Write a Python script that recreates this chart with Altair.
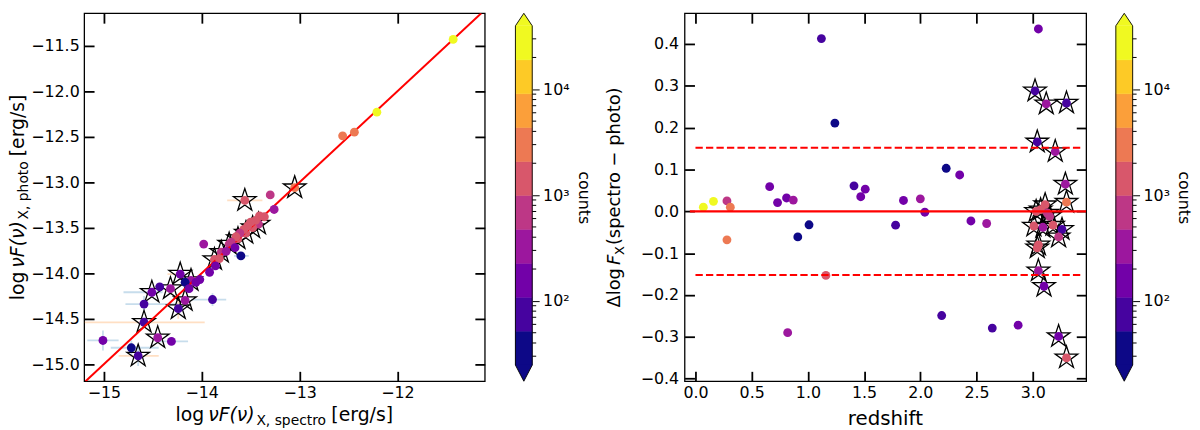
import numpy as np
import pandas as pd
import altair as alt

FONT = "DejaVu Sans"
TICK_FS = 16
TITLE_FS = 19
SUB_FS = 14
RY_FS = 18
RY_SUB = 13

# ---------------- left panel data ----------------
L_CIRC_X = [-11.43, -12.21, -12.56, -12.44, -13.30, -13.26, -13.36, -13.41, -13.45, -13.50,
            -13.53, -13.57, -13.61, -13.65, -13.70, -13.66, -13.75, -13.98, -13.60, -13.82,
            -13.86, -13.92, -14.02, -14.06, -14.17, -14.13, -14.43, -13.89, -14.59, -14.31,
            -15.01, -14.72]
L_CIRC_Y = [-11.43, -12.23, -12.49, -12.45, -13.14, -13.30, -13.38, -13.37, -13.42, -13.44,
            -13.48, -13.52, -13.56, -13.60, -13.66, -13.72, -13.76, -13.68, -13.81, -13.84,
            -13.92, -13.99, -14.07, -14.10, -14.10, -14.17, -14.15, -14.29, -14.34, -14.75,
            -14.74, -14.82]
L_CIRC_C = [25000, 25000, 2700, 2700, 650, 320, 1300, 1300, 1300, 1300,
            1300, 1300, 650, 1300, 650, 160, 320, 320, 40, 1300,
            160, 160, 160, 160, 40, 160, 80, 80, 80, 160,
            160, 40]

L_STAR_X = [-13.05, -13.56, -13.42, -13.48, -13.55, -13.63, -13.72, -13.80, -13.87, -14.22,
            -14.11, -14.51, -14.32, -14.17, -14.24, -14.59, -14.45, -14.65]
L_STAR_Y = [-13.06, -13.20, -13.46, -13.50, -13.56, -13.62, -13.68, -13.77, -13.85, -14.01,
            -14.08, -14.21, -14.17, -14.30, -14.39, -14.54, -14.71, -14.91]
L_STAR_C = [2700, 1300, 650, 1300, 1300, 1300, 650, 650, 1300, 160,
            320, 160, 320, 320, 80, 80, 320, 80]

# horizontal error bars (b = circle sample, o = star sample)
L_HERR_Y = [-14.74, -14.82, -14.34, -14.75, -14.29, -14.21, -13.81, -14.54, -14.91, -13.20, -14.01]
L_HERR_LO = [-15.17, -14.93, -14.78, -14.44, -14.11, -14.80, -13.67, -15.20, -14.85, -13.74, -14.35]
L_HERR_HI = [-14.85, -14.44, -14.24, -14.14, -13.75, -14.40, -13.52, -13.97, -14.44, -13.38, -14.25]
L_HERR_K = ["b", "b", "b", "b", "b", "b", "b", "o", "o", "o", "o"]
# vertical error bars
L_VERR_X = [-15.01, -14.65, -14.59, -14.24, -13.89, -14.72]
L_VERR_LO = [-14.85, -15.02, -14.44, -14.50, -14.36, -14.90]
L_VERR_HI = [-14.63, -14.80, -14.25, -14.30, -14.22, -14.74]
L_VERR_K = ["b", "b", "b", "o", "b", "b"]

# ---------------- right panel data ----------------
R_CIRC_Z = [0.07, 0.16, 0.28, 0.31, 0.28, 0.66, 0.73, 0.81, 0.87, 0.82,
            0.91, 1.01, 1.12, 1.16, 1.24, 1.41, 1.47, 1.51, 1.78, 1.85,
            2.00, 2.04, 2.19, 2.23, 2.35, 2.45, 2.59, 2.64, 2.87, 3.05]
R_CIRC_D = [0.010, 0.024, 0.025, 0.010, -0.068, 0.059, 0.021, 0.032, 0.027, -0.290,
            -0.061, -0.032, 0.413, -0.153, 0.211, 0.061, 0.035, 0.053, -0.033, 0.026,
            0.030, -0.002, -0.249, 0.103, 0.087, -0.023, -0.029, -0.279, -0.272, 0.436]
R_CIRC_C = [25000, 25000, 650, 2700, 2700, 160, 160, 160, 320, 320,
            40, 40, 80, 1300, 40, 80, 160, 160, 80, 160,
            320, 160, 80, 40, 160, 160, 320, 80, 160, 160]

R_STAR_Z = [3.02, 3.12, 3.30, 3.04, 3.20, 3.29, 3.30, 3.11, 3.07, 3.03,
            3.13, 3.15, 3.01, 3.09, 3.18, 3.26, 3.23, 3.04, 3.05, 3.05,
            3.10, 3.23, 3.30]
R_STAR_D = [0.288, 0.257, 0.259, 0.166, 0.143, 0.065, 0.022, 0.016, 0.004, 0.000,
            -0.004, -0.012, -0.035, -0.038, -0.033, -0.043, -0.061, -0.087, -0.080, -0.142,
            -0.179, -0.299, -0.350]
R_STAR_C = [80, 320, 80, 80, 320, 320, 2700, 1300, 1300, 1300,
            650, 650, 1300, 320, 1300, 80, 650, 1300, 1300, 320,
            160, 160, 1300]

R_DASH_Y = [0.152, -0.152]
R_DASH_X = [0.0, 3.45]
R_ZERO_X = [-0.05, 3.475]

# ---------------- colour bar ----------------
CB_BOUNDS_LOG = [1.393, 1.714, 2.034, 2.355, 2.676, 2.997, 3.317, 3.638, 3.958, 4.279, 4.600]
CB_COLORS = ["#0d0887", "#46039f", "#7201a8", "#9c179e", "#bd3786",
             "#d8576b", "#ed7953", "#fb9f3a", "#fdca26", "#f0f921"]
CB_MAJOR = [100, 1000, 10000]
CB_MINOR = [30, 40, 50, 60, 70, 80, 90, 200, 300, 400, 500, 600, 700, 800, 900,
            2000, 3000, 4000, 5000, 6000, 7000, 8000, 9000, 20000, 30000]

CSCALE = alt.Scale(type="threshold", domain=[10 ** b for b in CB_BOUNDS_LOG[1:-1]], range=CB_COLORS)
ERR_SCALE = alt.Scale(domain=["b", "o"], range=["#1f77b4", "#ff7f0e"])

# star symbol (5 points, unit circumradius)
_pts = []
for k in range(10):
    r = 1.0 if k % 2 == 0 else 0.382
    a = np.deg2rad(-90 + 36 * k)
    _pts.append((r * np.cos(a), r * np.sin(a)))
STAR = "M" + "L".join(f"{px:.4f},{py:.4f}" for px, py in _pts) + "Z"

CW = {' ': 0.318, '(': 0.390, ')': 0.390, '[': 0.390, ']': 0.390, '/': 0.337, ',': 0.318,
      '.': 0.318, '−': 0.838, 'a': 0.613, 'c': 0.550, 'd': 0.635, 'e': 0.615, 'f': 0.352,
      'g': 0.635, 'h': 0.634, 'i': 0.278, 'l': 0.278, 'n': 0.634, 'o': 0.612, 'p': 0.635,
      'r': 0.411, 's': 0.521, 't': 0.392, 'u': 0.634, 'X': 0.685, 'F': 0.575, 'Δ': 0.685,
      'ν': 0.592}


def tw(s, fs):
    return sum(CW.get(ch, 0.6) for ch in s) * fs


def text_mark(s, x, y, fs, italic=False, angle=0, align="left"):
    kw = dict(font=FONT, fontSize=fs, align=align, baseline="alphabetic", color="black")
    if italic:
        kw["fontStyle"] = "italic"
    if angle:
        kw["angle"] = angle
    return alt.Chart(alt.Data(values=[{"t": s}])).mark_text(**kw).encode(
        text="t:N", x=alt.value(x), y=alt.value(y))


def h_title(pieces, xc, yb):
    total = sum(tw(p[0], p[1]) + p[4] for p in pieces)
    x = xc - total / 2
    out = []
    for s, fs, it, dy, gap in pieces:
        x += gap
        out.append(text_mark(s, x, yb + dy, fs, it))
        x += tw(s, fs)
    return out


def v_title(pieces, yc, xb):
    total = sum(tw(p[0], p[1]) + p[4] for p in pieces)
    y = yc + total / 2
    out = []
    for s, fs, it, dy, gap in pieces:
        y -= gap
        out.append(text_mark(s, xb + dy, y, fs, it, angle=270))
        y -= tw(s, fs)
    return out


def lab_axis(orient, values, fmt, pad):
    return alt.Axis(orient=orient, values=values, format=fmt, ticks=False, tickSize=0, domain=False,
                    grid=False, labelPadding=pad, labelFontSize=TICK_FS, labelFont=FONT,
                    labelColor="black", labelFlush=False, labelOverlap=False, title=None)


def tick_axis(orient, offset, values):
    return alt.Axis(orient=orient, offset=offset, values=values, labels=False, domain=False,
                    grid=False, ticks=True, tickSize=10, tickWidth=1.8, tickColor="black", title=None)


H = 372
VIEW = alt.ViewBackground(stroke="black", strokeWidth=1.3)

# ================= left panel =================
W1 = 405
XS1 = alt.Scale(domain=[-15.202, -11.107], nice=False, zero=False)
YS1 = alt.Scale(domain=[-15.188, -11.143], nice=False, zero=False)
XT1 = [-15, -14, -13, -12]
YT1 = [-15.0, -14.5, -14.0, -13.5, -13.0, -12.5, -12.0, -11.5]

df_herr = pd.DataFrame({"y": L_HERR_Y, "lo": L_HERR_LO, "hi": L_HERR_HI, "k": L_HERR_K})
df_verr = pd.DataFrame({"x": L_VERR_X, "lo": L_VERR_LO, "hi": L_VERR_HI, "k": L_VERR_K})
df_lc = pd.DataFrame({"x": L_CIRC_X, "y": L_CIRC_Y, "c": L_CIRC_C})
df_ls = pd.DataFrame({"x": L_STAR_X, "y": L_STAR_Y, "c": L_STAR_C})
df_l11 = pd.DataFrame({"x": [-15.188, -11.143], "y": [-15.188, -11.143]})

l_herr = alt.Chart(df_herr).mark_rule(strokeWidth=1.8, opacity=0.25, clip=True).encode(
    x=alt.X("lo:Q", scale=XS1, axis=lab_axis("bottom", XT1, "d", 3)), x2="hi:Q",
    y=alt.Y("y:Q", scale=YS1, axis=lab_axis("left", YT1, ".1f", 5)),
    color=alt.Color("k:N", scale=ERR_SCALE, legend=None))
l_verr = alt.Chart(df_verr).mark_rule(strokeWidth=1.8, opacity=0.25, clip=True).encode(
    x=alt.X("x:Q", scale=XS1, axis=tick_axis("top", -H, XT1)),
    y=alt.Y("lo:Q", scale=YS1, axis=tick_axis("right", -W1, YT1)), y2="hi:Q",
    color=alt.Color("k:N", scale=ERR_SCALE, legend=None))
l_star = alt.Chart(df_ls).mark_point(shape=STAR, size=576, filled=False, stroke="black",
                                     strokeWidth=1.3, opacity=1).encode(
    x=alt.X("x:Q", scale=XS1, axis=tick_axis("bottom", -H, XT1)),
    y=alt.Y("y:Q", scale=YS1, axis=tick_axis("left", -W1, YT1)))
l_starc = alt.Chart(df_ls).mark_circle(size=80, opacity=1).encode(
    x=alt.X("x:Q", scale=XS1, axis=None), y=alt.Y("y:Q", scale=YS1, axis=None),
    color=alt.Color("c:Q", scale=CSCALE, legend=None))
l_line = alt.Chart(df_l11).mark_line(color="#ff0000", strokeWidth=2, clip=True).encode(
    x=alt.X("x:Q", scale=XS1, axis=None), y=alt.Y("y:Q", scale=YS1, axis=None))
l_circ = alt.Chart(df_lc).mark_circle(size=80, opacity=1).encode(
    x=alt.X("x:Q", scale=XS1, axis=None), y=alt.Y("y:Q", scale=YS1, axis=None),
    color=alt.Color("c:Q", scale=CSCALE, legend=None))

l_xt = h_title([("log", TITLE_FS, False, 0, 0), ("νF(ν)", TITLE_FS, True, 0, 4),
                ("X, spectro", SUB_FS, False, 4.5, 0.5), ("[erg/s]", TITLE_FS, False, 0, 5)],
               W1 / 2, H + 40)
l_yt = v_title([("log", TITLE_FS, False, 0, 0), ("νF(ν)", TITLE_FS, True, 0, 4),
                ("X, photo", SUB_FS, False, 4.5, 0.5), ("[erg/s]", TITLE_FS, False, 0, 5)],
               H / 2, -61)

P1 = alt.layer(l_herr, l_verr, l_star, l_starc, l_line, l_circ, *l_xt, *l_yt).resolve_axis(
    x="independent", y="independent").properties(width=W1, height=H, view=VIEW)

# ================= right panel =================
W2 = 406
XS2 = alt.Scale(domain=[-0.097, 3.475], nice=False, zero=False)
YS2 = alt.Scale(domain=[-0.406, 0.4735], nice=False, zero=False)
XT2 = [0.0, 0.5, 1.0, 1.5, 2.0, 2.5, 3.0]
YT2 = [-0.4, -0.3, -0.2, -0.1, 0.0, 0.1, 0.2, 0.3, 0.4]

df_rc = pd.DataFrame({"x": R_CIRC_Z, "y": R_CIRC_D, "c": R_CIRC_C})
df_rs = pd.DataFrame({"x": R_STAR_Z, "y": R_STAR_D, "c": R_STAR_C})
df_dash = pd.DataFrame({"x0": [R_DASH_X[0]] * 2, "x1": [R_DASH_X[1]] * 2, "y": R_DASH_Y})
df_zero = pd.DataFrame({"x": R_ZERO_X, "y": [0.0, 0.0]})

r_circ = alt.Chart(df_rc).mark_circle(size=80, opacity=1).encode(
    x=alt.X("x:Q", scale=XS2, axis=tick_axis("top", -H, XT2)),
    y=alt.Y("y:Q", scale=YS2, axis=tick_axis("right", -W2, YT2)),
    color=alt.Color("c:Q", scale=CSCALE, legend=None))
r_star = alt.Chart(df_rs).mark_point(shape=STAR, size=576, filled=False, stroke="black",
                                     strokeWidth=1.3, opacity=1).encode(
    x=alt.X("x:Q", scale=XS2, axis=tick_axis("bottom", -H, XT2)),
    y=alt.Y("y:Q", scale=YS2, axis=tick_axis("left", -W2, YT2)))
r_starc = alt.Chart(df_rs).mark_circle(size=80, opacity=1).encode(
    x=alt.X("x:Q", scale=XS2, axis=None), y=alt.Y("y:Q", scale=YS2, axis=None),
    color=alt.Color("c:Q", scale=CSCALE, legend=None))
r_dash = alt.Chart(df_dash).mark_rule(color="#ff0000", strokeWidth=2, strokeDash=[7.4, 3.2]).encode(
    x=alt.X("x0:Q", scale=XS2, axis=lab_axis("bottom", XT2, ".1f", 3)), x2="x1:Q",
    y=alt.Y("y:Q", scale=YS2, axis=lab_axis("left", YT2, ".1f", 6)))
r_zero = alt.Chart(df_zero).mark_line(color="#ff0000", strokeWidth=2.5, clip=True).encode(
    x=alt.X("x:Q", scale=XS2, axis=None), y=alt.Y("y:Q", scale=YS2, axis=None))

r_xt = [text_mark("redshift", W2 / 2, H + 44, 20, align="center")]
r_yt = v_title([("Δlog", RY_FS, False, 0, 0), ("F", RY_FS, True, 0, 3),
                ("X", RY_SUB, False, 4, 0), ("(spectro − photo)", RY_FS, False, 0, 1)],
               H / 2, -65)

P2 = alt.layer(r_circ, r_star, r_starc, r_dash, r_zero, *r_xt, *r_yt).resolve_axis(
    x="independent", y="independent").properties(width=W2, height=H, view=VIEW)

# ================= colour bars =================
CBW = 17
PXD = 343 / (CB_BOUNDS_LOG[-1] - CB_BOUNDS_LOG[0])
TOP_ARROW = 12.7
BOT_ARROW = H - 343 - TOP_ARROW
YSC = alt.Scale(domain=[CB_BOUNDS_LOG[0] - BOT_ARROW / PXD, CB_BOUNDS_LOG[-1] + TOP_ARROW / PXD],
                nice=False, zero=False)


def colorbar():
    df_cb = pd.DataFrame({"lo": CB_BOUNDS_LOG[:-1], "hi": CB_BOUNDS_LOG[1:], "col": CB_COLORS})
    lab = ("abs(datum.value-2)<0.01 ? '10²' : abs(datum.value-3)<0.01 ? '10³' : "
           "abs(datum.value-4)<0.01 ? '10⁴' : ''")
    cb_axis = alt.Axis(orient="right", values=[float(np.log10(v)) for v in CB_MAJOR], labelExpr=lab,
                       tickSize=7, tickWidth=1, tickColor="black", domain=False, grid=False,
                       labelPadding=3.5, labelFontSize=TICK_FS, labelFont=FONT, labelColor="black",
                       labelFlush=False, labelOverlap=False, title="counts", titleFont=FONT,
                       titleFontSize=TICK_FS, titleFontWeight="normal", titleColor="black",
                       titlePadding=6)
    body = alt.Chart(df_cb).mark_rect(strokeWidth=0.5).encode(
        x=alt.value(0), x2=alt.value(CBW),
        y=alt.Y("lo:Q", scale=YSC, axis=cb_axis), y2="hi:Q",
        fill=alt.Fill("col:N", scale=None), stroke=alt.Stroke("col:N", scale=None))
    minor = alt.Chart(pd.DataFrame({"v": [float(np.log10(v)) for v in CB_MINOR]})).mark_rule(
        color="black", strokeWidth=1).encode(
        x=alt.value(CBW), x2=alt.value(CBW + 4), y=alt.Y("v:Q", scale=YSC, axis=None))
    edges = alt.Chart(pd.DataFrame({"a": [CB_BOUNDS_LOG[0]], "b": [CB_BOUNDS_LOG[-1]]}))
    e_l = edges.mark_rule(color="black", strokeWidth=0.9).encode(
        x=alt.value(0), y=alt.Y("a:Q", scale=YSC, axis=None), y2="b:Q")
    e_r = edges.mark_rule(color="black", strokeWidth=0.9).encode(
        x=alt.value(CBW), y=alt.Y("a:Q", scale=YSC, axis=None), y2="b:Q")
    ht = TOP_ARROW / (CBW / 2) / 2
    hb = BOT_ARROW / (CBW / 2) / 2
    t_top = alt.Chart(pd.DataFrame({"y": [CB_BOUNDS_LOG[-1] + TOP_ARROW / 2 / PXD]})).mark_point(
        shape=f"M-1,{ht:.3f}L0,{-ht:.3f}L1,{ht:.3f}", size=CBW * CBW, filled=True,
        fill=CB_COLORS[-1], stroke="black", strokeWidth=0.9, opacity=1).encode(
        x=alt.value(CBW / 2), y=alt.Y("y:Q", scale=YSC, axis=None))
    t_bot = alt.Chart(pd.DataFrame({"y": [CB_BOUNDS_LOG[0] - BOT_ARROW / 2 / PXD]})).mark_point(
        shape=f"M-1,{-hb:.3f}L0,{hb:.3f}L1,{-hb:.3f}", size=CBW * CBW, filled=True,
        fill=CB_COLORS[0], stroke="black", strokeWidth=0.9, opacity=1).encode(
        x=alt.value(CBW / 2), y=alt.Y("y:Q", scale=YSC, axis=None))
    return alt.layer(body, minor, e_l, e_r, t_top, t_bot).resolve_axis(y="independent").properties(
        width=CBW, height=H, view=alt.ViewBackground(stroke="transparent"))


left = alt.hconcat(P1, colorbar(), spacing=26)
right = alt.hconcat(P2, colorbar(), spacing=25)

chart = alt.hconcat(left, right, spacing=14).properties(
    padding={"left": 0, "top": 0, "right": 0, "bottom": 0}
).configure(font=FONT).configure_view(stroke="transparent")

chart.save("out.html", embed_options={"renderer": "svg", "actions": False})
